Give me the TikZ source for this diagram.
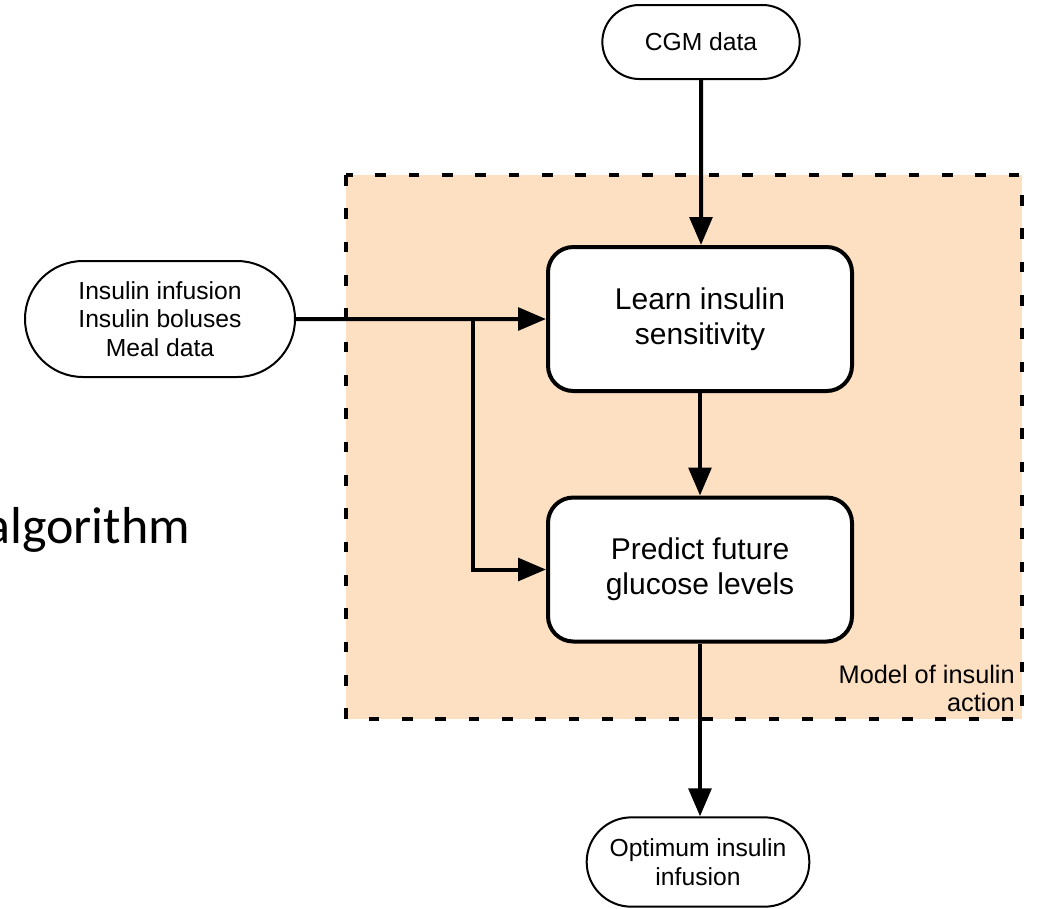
\documentclass[tikz,border=0pt]{standalone}
\usepackage{fontspec}
\setmainfont{Liberation Sans}
\newfontfamily\slidefont{Carlito}
\usetikzlibrary{shapes.misc,arrows.meta,positioning,calc}
\definecolor{modelpeach}{RGB}{253,224,194}

\begin{document}
\begin{tikzpicture}[x=0.75pt, y=-0.75pt,
    pill/.style={rounded rectangle, draw, line width=1.5pt, fill=white, align=center, inner sep=0pt,
        font=\fontsize{18.5}{21.5}\selectfont},
    stepbox/.style={rectangle, draw, line width=3pt, fill=white, rounded corners=19pt, align=center,
        minimum width=228pt, minimum height=108pt, font=\fontsize{22.5}{26}\selectfont},
    arr/.style={-{Triangle[length=21pt,width=17pt]}, line width=3pt}]
    \useasboundingbox (0,0) rectangle (1048,908);
    % model region
    \draw[fill=modelpeach, line width=3pt, dash pattern=on 8pt off 17pt] (346,175) rectangle (1022,719);
    \node[anchor=south east, align=right, inner sep=0pt, font=\fontsize{19}{21}\selectfont] (modellabel) at (1015,712) {Model of insulin\\action};
    \node[anchor=base west, inner sep=0pt, font=\slidefont\fontsize{39}{43}\selectfont] (algo) at (-15,543) {algorithm};
    \node[pill, minimum width=148pt, minimum height=55.5pt] (cgm) at (701,42) {CGM data};
    \node[stepbox] (learn) at (700,319) {Learn insulin\\sensitivity};
    \node[stepbox] (predict) at (700,569.5) {Predict future\\glucose levels};
    \node[pill, minimum width=202.5pt, minimum height=87pt] (inputs) at (160,319) {Insulin infusion\\Insulin boluses\\Meal data};
    \node[pill, minimum width=167pt, minimum height=67pt] (optimum) at (698,862) {Optimum insulin\\infusion};
    \coordinate (split) at (473,319);
    \draw[arr] (cgm) -- (cgm |- learn.north);
    \draw[arr] (inputs) -- (learn);
    \draw[arr] (split) |- (predict.west);
    \draw[arr] (learn) -- (predict);
    \draw[arr] (predict) -- (predict |- optimum.north);
\end{tikzpicture}
\end{document}
